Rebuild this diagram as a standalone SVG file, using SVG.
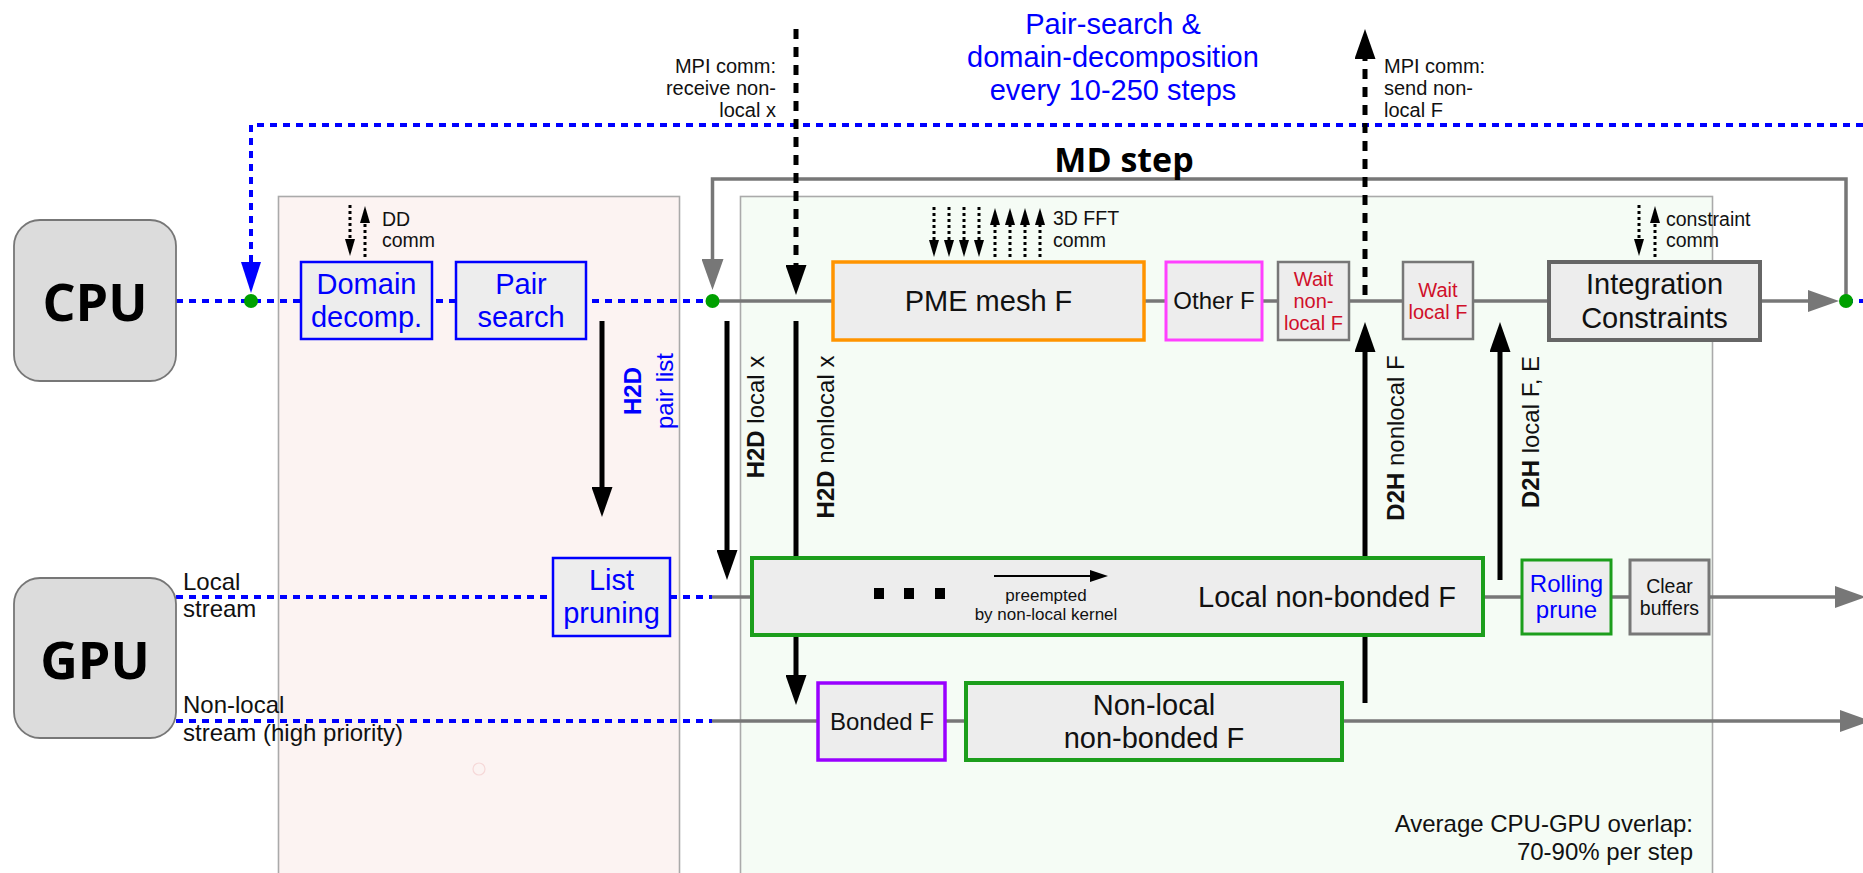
<svg xmlns="http://www.w3.org/2000/svg" width="1863" height="873" viewBox="0 0 1863 873">
  <style>
    text { font-family: "Liberation Sans", Arial, sans-serif; fill: #111; }
    .big { font-family: "Open Sans", "DejaVu Sans", sans-serif; font-weight: 700; fill: #000; }
    .b { font-weight: 700; }
    .blue { fill: #0000ff; }
    .red { fill: #d0102a; }
    .mid { text-anchor: middle; }
    .end { text-anchor: end; }
    .f29 { font-size: 29px; }
    .f24 { font-size: 24px; }
    .f20 { font-size: 20px; }
    .f19 { font-size: 19.5px; }
    .box { fill: #ededed; }
    .hw { fill: #dcdcdc; stroke: #777; stroke-width: 1.8; }
    .bluedot { fill: none; stroke: #0000ff; stroke-width: 4; stroke-dasharray: 7 6; }
    .grayline { fill: none; stroke: #777; stroke-width: 3.5; }
    .arrow { fill: none; stroke: #000; stroke-width: 5; }
    .mpi { fill: none; stroke: #000; stroke-width: 5; stroke-dasharray: 10 8; }
    .comm { fill: none; stroke: #000; stroke-width: 3; stroke-dasharray: 3 3; }
    .node { fill: #00a000; }
  </style>
  <defs>
    <marker id="hBlack" markerUnits="userSpaceOnUse" markerWidth="30" markerHeight="21" refX="0" refY="10.5" orient="auto">
      <path d="M0,0 L30,10.5 L0,21 z" fill="#000"/>
    </marker>
    <marker id="hGray" markerUnits="userSpaceOnUse" markerWidth="31" markerHeight="22" refX="0" refY="11" orient="auto">
      <path d="M0,0 L31,11 L0,22 z" fill="#777"/>
    </marker>
    <marker id="hBlue" markerUnits="userSpaceOnUse" markerWidth="31" markerHeight="20" refX="0" refY="10" orient="auto">
      <path d="M0,0 L31,10 L0,20 z" fill="#0000ff"/>
    </marker>
    <marker id="hSmall" markerUnits="userSpaceOnUse" markerWidth="17" markerHeight="10" refX="0" refY="5" orient="auto">
      <path d="M0,0 L17,5 L0,10 z" fill="#000"/>
    </marker>
    <marker id="hThin" markerUnits="userSpaceOnUse" markerWidth="18" markerHeight="12" refX="0" refY="6" orient="auto">
      <path d="M0,0 L18,6 L0,12 z" fill="#000"/>
    </marker>
  </defs>

  <!-- background panels -->
  <g id="panel-search">
    <rect x="278.5" y="196.5" width="401" height="690" fill="#fcf3f2" stroke="#aaa" stroke-width="1.6"/>
    <circle cx="479" cy="769" r="6" fill="none" stroke="#f6d8d8" stroke-width="1.2"/>
  </g>
  <g id="panel-step">
    <rect x="740.5" y="196.5" width="972" height="690" fill="#f5fcf5" stroke="#aaa" stroke-width="1.6"/>
  </g>

  <!-- connectors -->
  <g id="connectors">
    <!-- pair-search / DD cycle -->
    <path class="bluedot" d="M1863,125 H251 V262" marker-end="url(#hBlue)"/>
    <!-- MD step loop -->
    <path class="grayline" d="M1846,301 V179 H712.5 V259" marker-end="url(#hGray)"/>
    <!-- CPU timeline -->
    <line class="bluedot" x1="176" y1="301" x2="712" y2="301"/>
    <line class="grayline" x1="712" y1="301" x2="1808" y2="301" marker-end="url(#hGray)"/>
    <line class="bluedot" x1="1846" y1="301" x2="1863" y2="301"/>
    <!-- GPU local stream -->
    <line class="bluedot" x1="176" y1="597" x2="712" y2="597"/>
    <line class="grayline" x1="712" y1="597" x2="1835" y2="597" marker-end="url(#hGray)"/>
    <!-- GPU non-local stream -->
    <line class="bluedot" x1="176" y1="721" x2="712" y2="721"/>
    <line class="grayline" x1="712" y1="721" x2="1840" y2="721" marker-end="url(#hGray)"/>

    <!-- MPI halo communication -->
    <line class="mpi" x1="796" y1="29" x2="796" y2="265" marker-end="url(#hBlack)"/>
    <line class="mpi" x1="1365" y1="295" x2="1365" y2="59" marker-end="url(#hBlack)"/>

    <!-- host/device transfers -->
    <line class="arrow" x1="602" y1="321" x2="602" y2="487" marker-end="url(#hBlack)"/>
    <line class="arrow" x1="727" y1="321" x2="727" y2="550" marker-end="url(#hBlack)"/>
    <line class="arrow" x1="796" y1="321" x2="796" y2="675" marker-end="url(#hBlack)"/>
    <line class="arrow" x1="1365" y1="703" x2="1365" y2="352" marker-end="url(#hBlack)"/>
    <line class="arrow" x1="1500" y1="580" x2="1500" y2="352" marker-end="url(#hBlack)"/>

    <!-- DD comm -->
    <line class="comm" x1="350" y1="205" x2="350" y2="239" marker-end="url(#hSmall)"/>
    <line class="comm" x1="365" y1="257" x2="365" y2="223" marker-end="url(#hSmall)"/>
    <!-- 3D FFT comm -->
    <line class="comm" x1="934" y1="207" x2="934" y2="240" marker-end="url(#hSmall)"/>
    <line class="comm" x1="949" y1="207" x2="949" y2="240" marker-end="url(#hSmall)"/>
    <line class="comm" x1="964" y1="207" x2="964" y2="240" marker-end="url(#hSmall)"/>
    <line class="comm" x1="979" y1="207" x2="979" y2="240" marker-end="url(#hSmall)"/>
    <line class="comm" x1="995" y1="257" x2="995" y2="225" marker-end="url(#hSmall)"/>
    <line class="comm" x1="1010" y1="257" x2="1010" y2="225" marker-end="url(#hSmall)"/>
    <line class="comm" x1="1025" y1="257" x2="1025" y2="225" marker-end="url(#hSmall)"/>
    <line class="comm" x1="1040" y1="257" x2="1040" y2="225" marker-end="url(#hSmall)"/>
    <!-- constraint comm -->
    <line class="comm" x1="1639" y1="205" x2="1639" y2="239" marker-end="url(#hSmall)"/>
    <line class="comm" x1="1655" y1="257" x2="1655" y2="223" marker-end="url(#hSmall)"/>
  </g>

  <!-- timeline junctions -->
  <g id="junctions">
    <circle class="node" cx="251" cy="301" r="7"/>
    <circle class="node" cx="712.5" cy="301" r="7"/>
    <circle class="node" cx="1846" cy="301" r="7"/>
  </g>

  <!-- hardware -->
  <g id="cpu">
    <rect class="hw" x="14" y="220" width="162" height="161" rx="26"/>
    <text class="big mid" x="95" y="321" font-size="52">CPU</text>
  </g>
  <g id="gpu">
    <rect class="hw" x="14" y="578" width="162" height="160" rx="26"/>
    <text class="big mid" x="95" y="679" font-size="52">GPU</text>
  </g>

  <!-- CPU tasks -->
  <g id="domain-decomp">
    <rect class="box" x="301" y="262" width="131" height="77" stroke="#0000ff" stroke-width="2.5"/>
    <text class="blue mid f29" x="366.5" y="294">Domain</text>
    <text class="blue mid f29" x="366.5" y="327">decomp.</text>
  </g>
  <g id="pair-search">
    <rect class="box" x="456" y="262" width="130" height="77" stroke="#0000ff" stroke-width="2.5"/>
    <text class="blue mid f29" x="521" y="294">Pair</text>
    <text class="blue mid f29" x="521" y="327">search</text>
  </g>
  <g id="pme-mesh">
    <rect class="box" x="833" y="262" width="311" height="78" stroke="#ff9400" stroke-width="3.5"/>
    <text class="mid f29" x="988.5" y="311">PME mesh F</text>
  </g>
  <g id="other-f">
    <rect class="box" x="1166" y="262" width="96" height="78" stroke="#ff40ff" stroke-width="3"/>
    <text class="mid f24" x="1214" y="309">Other F</text>
  </g>
  <g id="wait-nonlocal">
    <rect class="box" x="1278" y="262" width="71" height="78" stroke="#777" stroke-width="2.5"/>
    <text class="red mid f20" x="1313.5" y="286">Wait</text>
    <text class="red mid f20" x="1313.5" y="308">non-</text>
    <text class="red mid f20" x="1313.5" y="330">local F</text>
  </g>
  <g id="wait-local">
    <rect class="box" x="1403" y="262" width="70" height="77" stroke="#777" stroke-width="2.5"/>
    <text class="red mid f20" x="1438" y="297">Wait</text>
    <text class="red mid f20" x="1438" y="319">local F</text>
  </g>
  <g id="integration">
    <rect class="box" x="1549" y="262" width="211" height="78" stroke="#666" stroke-width="4"/>
    <text class="mid f29" x="1654.5" y="294">Integration</text>
    <text class="mid f29" x="1654.5" y="328">Constraints</text>
  </g>

  <!-- GPU tasks -->
  <g id="list-pruning">
    <rect class="box" x="553" y="558" width="117" height="78" stroke="#0000ff" stroke-width="2.5"/>
    <text class="blue mid f29" x="611.5" y="590">List</text>
    <text class="blue mid f29" x="611.5" y="623">pruning</text>
  </g>
  <g id="local-nonbonded">
    <rect class="box" x="752" y="558" width="731" height="77" stroke="#1c9e1c" stroke-width="4"/>
    <rect x="874" y="588" width="10" height="11" fill="#000"/>
    <rect x="904" y="588" width="10" height="11" fill="#000"/>
    <rect x="935" y="588" width="10" height="11" fill="#000"/>
    <line x1="994" y1="576" x2="1090" y2="576" stroke="#000" stroke-width="1.8" marker-end="url(#hThin)"/>
    <text class="mid" x="1046" y="601" font-size="17">preempted</text>
    <text class="mid" x="1046" y="620" font-size="17">by non-local kernel</text>
    <text class="f29" x="1198" y="607">Local non-bonded F</text>
  </g>
  <g id="rolling-prune">
    <rect class="box" x="1522" y="560" width="89" height="74" stroke="#1c9e1c" stroke-width="3"/>
    <text class="blue mid f24" x="1566.5" y="592">Rolling</text>
    <text class="blue mid f24" x="1566.5" y="618">prune</text>
  </g>
  <g id="clear-buffers">
    <rect class="box" x="1630" y="560" width="79" height="74" stroke="#777" stroke-width="3"/>
    <text class="mid f19" x="1669.5" y="593">Clear</text>
    <text class="mid f19" x="1669.5" y="615">buffers</text>
  </g>
  <g id="bonded">
    <rect class="box" x="818" y="683" width="127" height="77" stroke="#9900ff" stroke-width="3.5"/>
    <text class="mid f24" x="882" y="730">Bonded F</text>
  </g>
  <g id="nonlocal-nonbonded">
    <rect class="box" x="966" y="683" width="376" height="77" stroke="#1c9e1c" stroke-width="4"/>
    <text class="mid f29" x="1154" y="715">Non-local</text>
    <text class="mid f29" x="1154" y="748">non-bonded F</text>
  </g>

  <!-- labels -->
  <g id="labels">
    <text class="blue mid f29" x="1113" y="34">Pair-search &amp;</text>
    <text class="blue mid f29" x="1113" y="67">domain-decomposition</text>
    <text class="blue mid f29" x="1113" y="100">every 10-250 steps</text>
    <text class="big mid" x="1124" y="172" font-size="34">MD step</text>

    <text class="end f20" x="776" y="73">MPI comm:</text>
    <text class="end f20" x="776" y="95">receive non-</text>
    <text class="end f20" x="776" y="117">local x</text>
    <text class="f20" x="1384" y="73">MPI comm:</text>
    <text class="f20" x="1384" y="95">send non-</text>
    <text class="f20" x="1384" y="117">local F</text>

    <text class="f19" x="382" y="226">DD</text>
    <text class="f19" x="382" y="247">comm</text>
    <text class="f19" x="1053" y="225">3D FFT</text>
    <text class="f19" x="1053" y="247">comm</text>
    <text class="f19" x="1666" y="226">constraint</text>
    <text class="f19" x="1666" y="247">comm</text>

    <text class="mid f24" transform="translate(641,391) rotate(-90)"><tspan class="b blue">H2D</tspan></text>
    <text class="mid f24 blue" transform="translate(673,391) rotate(-90)">pair list</text>
    <text class="mid f24" transform="translate(764,417) rotate(-90)"><tspan class="b">H2D</tspan> local x</text>
    <text class="mid f24" transform="translate(834,437) rotate(-90)"><tspan class="b">H2D</tspan> nonlocal x</text>
    <text class="mid f24" transform="translate(1404,438) rotate(-90)"><tspan class="b">D2H</tspan> nonlocal F</text>
    <text class="mid f24" transform="translate(1539,432) rotate(-90)"><tspan class="b">D2H</tspan> local F, E</text>

    <text class="f24" x="183" y="590">Local</text>
    <text class="f24" x="183" y="617">stream</text>
    <text class="f24" x="183" y="713">Non-local</text>
    <text class="f24" x="183" y="741">stream (high priority)</text>

    <text class="end f24" x="1693" y="832">Average CPU-GPU overlap:</text>
    <text class="end f24" x="1693" y="860">70-90% per step</text>
  </g>
</svg>
